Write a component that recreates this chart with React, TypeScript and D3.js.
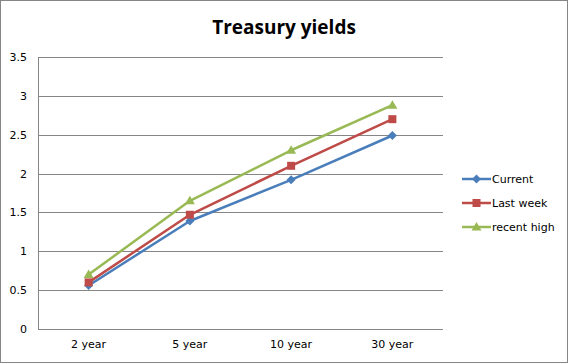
import React from "react";
import * as d3 from "d3";

const categories = ["2 year", "5 year", "10 year", "30 year"];
const current = [0.56, 1.39, 1.92, 2.49];
const lastWeek = [0.6, 1.47, 2.1, 2.7];
const recentHigh = [0.7, 1.65, 2.3, 2.88];
const yTicks = [0, 0.5, 1, 1.5, 2, 2.5, 3, 3.5];
const seriesNames = ["Current", "Last week", "recent high"];

const W = 568, H = 363;
const plot = { left: 38, right: 443, top: 57, bottom: 329 };
const colors = ["#4A7EBB", "#BE4B48", "#98B954"];
const font = "Tahoma, 'DejaVu Sans', Verdana, sans-serif";

function Marker({ kind, x, y, color }: { kind: number; x: number; y: number; color: string }) {
  if (kind === 0) {
    const s = 4.5;
    return <path d={`M${x},${y - s}L${x + s},${y}L${x},${y + s}L${x - s},${y}Z`} fill={color} />;
  }
  if (kind === 1) {
    return <rect x={x - 4} y={y - 4} width={8} height={8} fill={color} />;
  }
  return <path d={`M${x},${y - 5}L${x + 5},${y + 3.5}L${x - 5},${y + 3.5}Z`} fill={color} />;
}

export default function App() {
  const x = d3.scaleBand().domain(categories).range([plot.left, plot.right]);
  const y = d3.scaleLinear().domain([0, 3.5]).range([plot.bottom, plot.top]);
  const series = [current, lastWeek, recentHigh];
  const line = d3
    .line<number>()
    .x((_, i) => (x(categories[i]) as number) + x.bandwidth() / 2)
    .y((d) => y(d));
  const legendY = [179, 203, 227];
  return (
    <div style={{ position: "absolute", left: 0, top: 0 }}>
      <svg width={W} height={H} style={{ display: "block" }}>
        <rect x={0.5} y={0.5} width={W - 1} height={H - 1} fill="#fff" stroke="#868686" />
        <text x={284} y={34} textAnchor="middle" fontFamily="'Open Sans', Calibri, sans-serif" fontWeight="bold" fontSize={19} fill="#000">
          Treasury yields
        </text>
        {yTicks.map((t) => (
          <g key={t}>
            <line x1={plot.left} x2={plot.right} y1={Math.round(y(t)) + 0.5} y2={Math.round(y(t)) + 0.5} stroke="#868686" />
            <text x={27} y={y(t) + 4} textAnchor="end" fontFamily={font} fontSize={11} fill="#000">
              {t}
            </text>
          </g>
        ))}
        <line x1={plot.left + 0.5} x2={plot.left + 0.5} y1={plot.top} y2={plot.bottom} stroke="#868686" />
        {categories.map((c) => (
          <text key={c} x={(x(c) as number) + x.bandwidth() / 2} y={348} textAnchor="middle" fontFamily={font} fontSize={11} fill="#000">
            {c}
          </text>
        ))}
        {series.map((s, si) => (
          <g key={si}>
            <path d={line(s) || ""} fill="none" stroke={colors[si]} strokeWidth={2.5} strokeLinejoin="round" />
            {s.map((v, i) => (
              <Marker key={i} kind={si} x={(x(categories[i]) as number) + x.bandwidth() / 2} y={y(v)} color={colors[si]} />
            ))}
          </g>
        ))}
        {seriesNames.map((n, i) => (
          <g key={n}>
            <line x1={462} x2={491} y1={legendY[i]} y2={legendY[i]} stroke={colors[i]} strokeWidth={2.5} />
            <Marker kind={i} x={476.5} y={legendY[i]} color={colors[i]} />
            <text x={492} y={legendY[i] + 4} fontFamily={font} fontSize={11} fill="#000">
              {n}
            </text>
          </g>
        ))}
      </svg>
    </div>
  );
}
